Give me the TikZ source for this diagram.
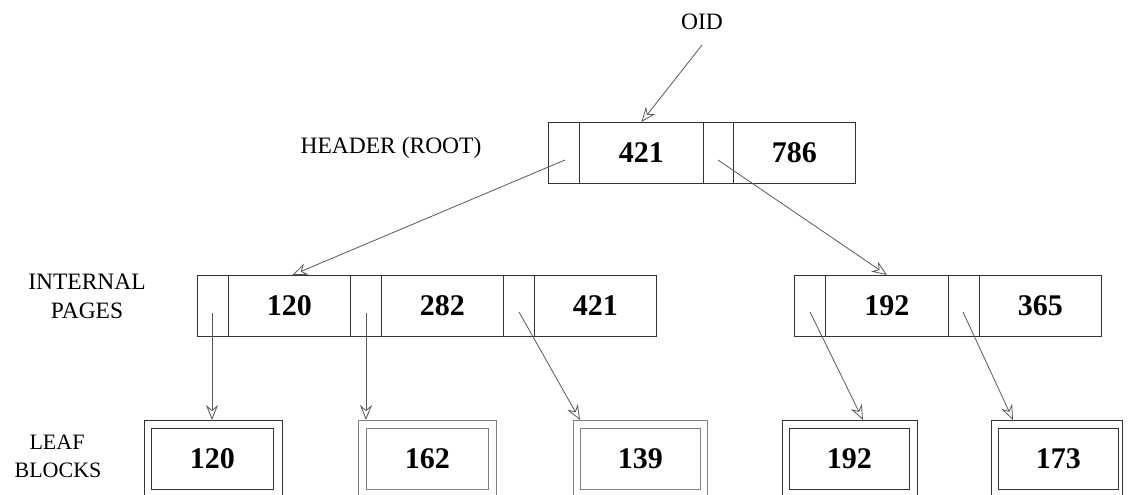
\documentclass[tikz,border=0pt]{standalone}
\usepackage{fontspec}
\setmainfont{Liberation Serif}
\usetikzlibrary{arrows.meta,calc}
\definecolor{boxc}{gray}{0.2}
\definecolor{arrc}{gray}{0.35}
\definecolor{lightc}{gray}{0.5}
\begin{document}
\begin{tikzpicture}[x=1pt,y=-1pt,
  box/.style={draw=boxc, line width=0.9pt, inner sep=0pt, anchor=north west, minimum height=61pt,
              font=\fontsize{30}{30}\selectfont\bfseries},
  lightbox/.style={box, draw=lightc},
  lbl/.style={font=\fontsize{23.5}{28}\selectfont, inner sep=0pt, anchor=base},
  lbls/.style={font=\fontsize{22}{26}\selectfont, inner sep=0pt, anchor=base},
  ptr/.style={draw=arrc, line width=0.8pt, -{Stealth[open, length=15pt, width=12pt, inset=5pt, fill=white]}}]
\clip (0,0) rectangle (1136,495);
\fill[white] (0,0) rectangle (1136,495);

% labels
\node[lbl] (oid) at (702,30) {OID};
\node[lbl] (hdr) at (391,153) {HEADER (ROOT)};
\node[lbl] (intl) at (87,289) {INTERNAL};
\node[lbl] (pages) at (87,318) {PAGES};
\node[lbls] (leafl) at (57,449) {LEAF};
\node[lbls] (blocks) at (58,477) {BLOCKS};

% root
\node[box, minimum width=31pt] (r0) at (548,122) {};
\node[box, minimum width=124pt] (r1) at (579,122) {421};
\node[box, minimum width=30pt] (r2) at (703,122) {};
\node[box, minimum width=122pt] (r3) at (733,122) {786};

% internal page A
\node[box, minimum width=31pt] (a0) at (197,275) {};
\node[box, minimum width=122pt] (a1) at (228,275) {120};
\node[box, minimum width=31pt] (a2) at (350,275) {};
\node[box, minimum width=122pt] (a3) at (381,275) {282};
\node[box, minimum width=31pt] (a4) at (503,275) {};
\node[box, minimum width=122pt] (a5) at (534,275) {421};

% internal page B
\node[box, minimum width=31pt] (b0) at (794,275) {};
\node[box, minimum width=123pt] (b1) at (825,275) {192};
\node[box, minimum width=31pt] (b2) at (948,275) {};
\node[box, minimum width=122pt] (b3) at (979,275) {365};

% leaves
\node[box, minimum width=138pt, minimum height=95pt] (L1) at (144,420) {};
\node[box, minimum width=122pt] (L1in) at (151,428) {120};
\node[lightbox, minimum width=138pt, minimum height=95pt] (L2) at (358,420) {};
\node[lightbox, minimum width=122pt] (L2in) at (366,428) {162};
\node[lightbox, minimum width=134pt, minimum height=95pt] (L3) at (573,420) {};
\node[lightbox, minimum width=120pt] (L3in) at (580,428) {139};
\node[box, minimum width=135pt, minimum height=95pt] (L4) at (782,420) {};
\node[box, minimum width=120pt] (L4in) at (789,428) {192};
\node[box, minimum width=131pt, minimum height=95pt] (L5) at (991,420) {};
\node[box, minimum width=120pt] (L5in) at (998,428) {173};

% connectors
\coordinate (oidtail) at (702,45);
\draw[ptr] (oidtail) -- (r1.north);
\coordinate (p0) at (565,160);
\draw[ptr] (p0) -- ($(a1.north)+(3,0)$);
\coordinate (p2) at (718,160);
\draw[ptr] (p2) -- (b1.north);
\coordinate (q0) at (212,313);
\draw[ptr] (q0) -- (q0 |- L1.north);
\coordinate (q2) at (366,313);
\draw[ptr] (q2) -- (q2 |- L2.north);
\coordinate (q4) at (519,312);
\draw[ptr] (q4) -- (L3in.west |- L3.north);
\coordinate (s0) at (810,312);
\draw[ptr] (s0) -- ($(L4.north west)+(81,0)$);
\coordinate (s2) at (963,312);
\draw[ptr] (s2) -- ($(L5.north west)+(22,0)$);
\end{tikzpicture}
\end{document}
